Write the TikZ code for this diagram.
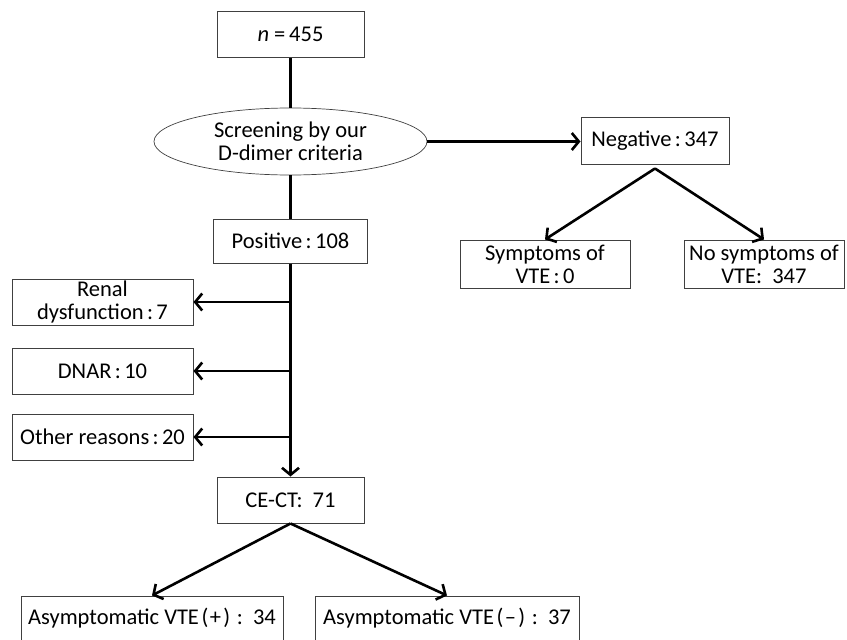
\documentclass[tikz,border=0pt]{standalone}
\usepackage{fontspec}
\setmainfont{Carlito}
\usetikzlibrary{
  arrows.meta,
  positioning,
  shapes.geometric,
}
% spaced colon, colon with wide gap after, bracketed sign
\newcommand{\zcolon}{\hspace{0.15em}:\hspace{0.15em}}
\newcommand{\lcolon}{:\hspace{0.45em}}
\newcommand{\vtesign}[1]{\hspace{0.12em}(\hspace{0.06em}#1\hspace{0.1em})%
  \hspace{0.3em}:\hspace{0.45em}}
\tikzstyle{link} = [
  line width=2.6pt,
  line cap=butt,
]
\tikzstyle{arrow} = [
  link,
  -{Straight Barb[length=7pt, width=17pt]},
]

\begin{document}
\begin{tikzpicture}[x=1pt, y=-1pt,
    font=\fontsize{22.5}{23}\selectfont,
    box/.style={draw=black!75, line width=1pt, inner sep=0pt,
                align=center, minimum height=46pt}]
    \useasboundingbox (0,0) rectangle (847,640);
    % main column
    \node [box, minimum width=147pt] (total) at (290.5,34.5)
          {\textit{n} =\,455};
    \node [draw=black!75, line width=0.7pt, ellipse, inner sep=0pt,
           align=center, minimum width=273pt, minimum height=67pt]
          (screen) at (290.5,141.5) {Screening by our\\D-dimer criteria};
    \node [box, minimum width=154pt, minimum height=44pt] (pos)
          at (290.5,241) {Positive\zcolon 108};
    \node [box, minimum width=147pt] (cect) at (290.5,500)
          {CE-CT\lcolon 71};
    % negative branch
    \node [box, minimum width=148pt, minimum height=47pt] (neg)
          at (655,140.5) {Negative\zcolon 347};
    \node [box, minimum width=170pt, minimum height=48pt] (symp)
          at (545,264) {Symptoms of\\VTE\zcolon 0};
    \node [box, minimum width=160pt, minimum height=48pt] (nosymp)
          at (764,264) {No symptoms of\\VTE\lcolon 347};
    % excluded cases
    \node [box, minimum width=181pt] (renal) at (102.5,302)
          {Renal\\dysfunction\zcolon 7};
    \node [box, minimum width=181pt, below=22pt of renal] (dnar)
          {DNAR\zcolon 10};
    \node [box, minimum width=181pt, below=19pt of dnar] (other)
          {Other reasons\zcolon 20};
    % CE-CT results
    \node [box, minimum width=262pt, minimum height=45pt] (asympos)
          at (152,618.5) {Asymptomatic VTE\vtesign{+}34};
    \node [box, minimum width=264pt, minimum height=45pt] (asymneg)
          at (447,618.5) {Asymptomatic VTE\vtesign{--}37};

    \draw [link] (total) -- (screen);
    \draw [link] (screen) -- (pos);
    \draw [arrow] (screen.east) -- (screen.east -| neg.west);
    \draw [arrow] ([yshift=-4pt]neg.south) -- (symp.north);
    \draw [arrow] ([yshift=-4pt]neg.south) -- (nosymp.north);
    \draw [arrow] (pos) -- (cect);
    \foreach \n in {renal, dnar, other}
      \draw [arrow] (pos.south |- \n.east) -- (\n.east);
    \draw [arrow] (cect.south) -- (asympos.north);
    \draw [arrow] (cect.south) -- (asymneg.north);
  \end{tikzpicture}
\end{document}
